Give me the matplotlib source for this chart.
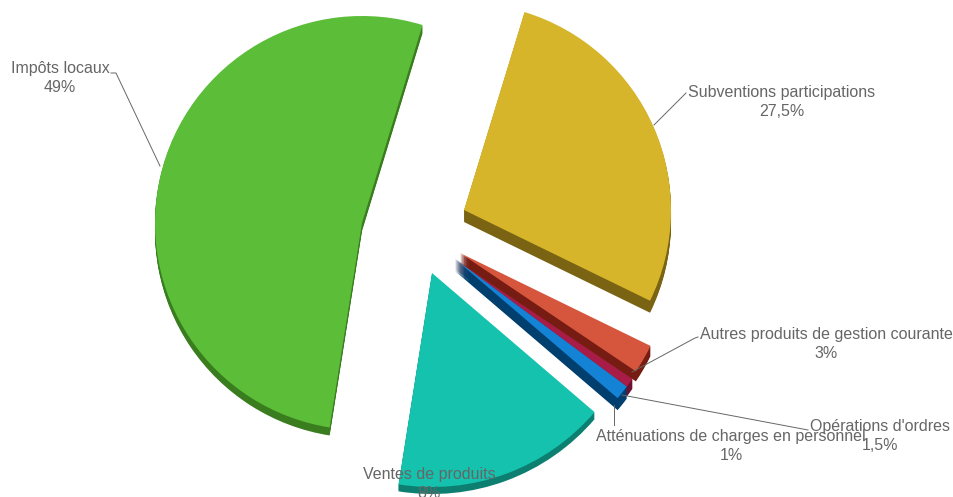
import matplotlib
matplotlib.use("Agg")
import matplotlib.pyplot as plt
import numpy as np

plt.rcParams['font.family'] = ['Liberation Sans', 'DejaVu Sans']

# clockwise from the top, starting at the yellow slice
names = ["Subventions participations", "Autres produits de gestion courante",
         "Atténuations de charges en personnel", "Opérations d'ordres",
         "Ventes de produits", "Impôts locaux"]
pct_labels = ["27,5%", "3%", "1%", "1,5%", "8%", "49%"]
values = [27.5, 3, 1, 1.5, 18, 49]

top_colors = ["#d7b52b", "#d6553d", "#a81c47", "#1483d6", "#15c2ae", "#5bbd38"]
side_colors = ["#7a6414", "#761c12", "#6e1030", "#003f6e", "#0c7f70", "#3a7d1f"]

# where each exploded slice sits, in pixels
apex = [(464, 210), (460, 253), (455, 259), (455, 259), (432, 273), (362, 223)]
radii = [207, 212, 214, 214, 214, 207]
depths = [12, 10, 10, 12, 7, 8]
z_side = [1, 3, 1, 1, 1, 1]
z_top = [2, 4, 2, 2, 2, 2]

# the 3D view squeezes the angles on the lower right, stretches the left
warp_from = [17, 116, 136, 200.6, 377]
warp_by = [0, 0, -5.3, -11.6, 0]

# label centres and leader lines, in pixels
label_pos = [(782, 93), (826, 334), (731, 436), (880, 426), (429, 475), (60, 69)]
leaders = [
    ([654, 686], [125, 93]),
    ([632, 695, 698], [372, 338, 337]),
    ([614, 614], [405, 425]),
    ([622, 808], [395, 430]),
    ([160, 116, 111], [166, 73, 73]),
]


def warp(theta):
    # theta is measured from +x, the warp table clockwise from the top
    cw = theta + 90
    return theta + np.interp(cw, warp_from, warp_by)


def draw_layer(ax, colors, dy, zorders):
    wedges, _ = ax.pie(values, colors=colors, startangle=-73, counterclock=True,
                       normalize=True, wedgeprops={"linewidth": 0})
    for i, w in enumerate(wedges):
        t1, t2 = w.theta1, w.theta2
        w.set_theta1(warp(t1))
        w.set_theta2(warp(t2))
        w.set_center((apex[i][0], apex[i][1] + dy))
        w.set_radius(radii[i])
        w.set_zorder(zorders[i])
        w.set_visible(dy <= depths[i])


fig = plt.figure(figsize=(9.54, 4.97), dpi=100)
ax = fig.add_axes([0, 0, 1, 1])

# side faces: same pie stacked downwards
for d in range(max(depths), 0, -1):
    draw_layer(ax, side_colors, d, z_side)
draw_layer(ax, top_colors, 0, z_top)

ax.set_xlim(0, 954)
ax.set_ylim(497, 0)
ax.set_aspect("equal")
ax.axis("off")

for xs, ys in leaders:
    ax.plot(xs, ys, color="#666666", lw=0.7, zorder=5)

for name, pct, (x, y) in zip(names, pct_labels, label_pos):
    ax.text(x, y, name, ha="center", va="center", fontsize=11.5, color="#666666", zorder=6)
    ax.text(x, y + 19, pct, ha="center", va="center", fontsize=11.5, color="#666666", zorder=6)

fig.savefig("out.png", dpi=100)
